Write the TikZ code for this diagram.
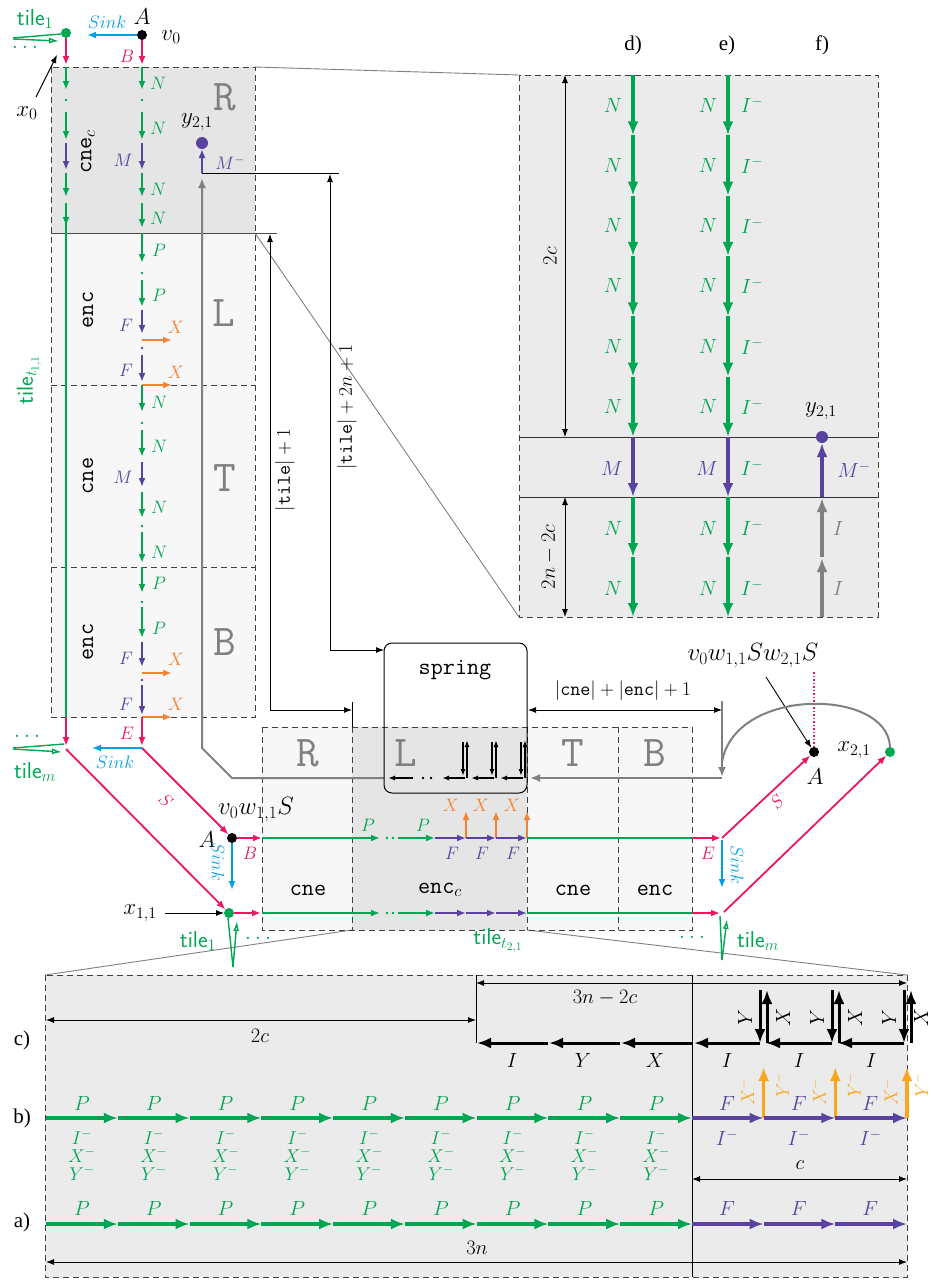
\RequirePackage{fix-cm}
\documentclass[tikz,border=0pt]{standalone}
\usepackage{fontspec}
\usetikzlibrary{arrows.meta}
\newfontfamily\timesf{Liberation Serif}
\definecolor{cgreen}{RGB}{0,166,81}
\definecolor{cpurple}{RGB}{90,66,160}
\definecolor{cred}{RGB}{236,24,92}
\definecolor{ccyan}{RGB}{0,160,226}
\definecolor{corange}{RGB}{244,130,54}
\definecolor{camber}{RGB}{250,166,30}
\definecolor{fillA}{RGB}{229,229,229}
\definecolor{fillB}{RGB}{247,247,247}
\definecolor{fillP}{RGB}{235,235,235}
\definecolor{dgray}{RGB}{128,128,128}
\newcommand\fsz[1]{\fontsize{#1}{#1}\selectfont}
\begin{document}
\begin{tikzpicture}[x=1pt,y=-1pt,
  every node/.style={inner sep=0pt,outer sep=0pt},
  hsm/.style={-{Latex[length=9pt,width=7pt]}},
  hbg/.style={-{Latex[length=14pt,width=11pt]}},
  hdm/.style={-{Latex[length=8pt,width=6pt]}},
  grnA/.style={cgreen,line width=1.8pt,hsm},
  purA/.style={cpurple,line width=1.8pt,hsm},
  redA/.style={cred,line width=1.8pt,hsm},
  cynA/.style={ccyan,line width=1.8pt,hsm},
  orgA/.style={corange,line width=1.8pt,hsm},
  blkS/.style={black,line width=1.8pt,-{Latex[length=7pt,width=5pt]}},
  GRN/.style={cgreen,line width=3.2pt,hbg},
  PUR/.style={cpurple,line width=3.2pt,hbg},
  AMB/.style={camber,line width=3.2pt,hbg},
  BLK/.style={black,line width=3pt,hbg},
  GRY/.style={dgray,line width=3.2pt,hbg},
  gryA/.style={dgray,line width=2pt,-{Latex[length=10pt,width=8pt]}},
  thinA/.style={black,line width=0.9pt,hdm},
  dimA/.style={black,line width=0.9pt,{Latex[length=8pt,width=6pt]}-{Latex[length=8pt,width=6pt]}},
  dsh/.style={dash pattern=on 6pt off 4pt,line width=1pt,black!75},
  mag/.style={dgray,line width=0.9pt},
  lbS/.style={font=\fsz{18}},
  lbD/.style={font=\fsz{19.5}},
  lbM/.style={font=\fsz{23}},
  lbV/.style={font=\fsz{25}},
  lbP/.style={font=\fsz{20.5}},
  lbK/.style={font=\fsz{18.5}},
  lbT/.style={font=\fsz{23}\sffamily,text=cgreen},
  ttl/.style={font=\fsz{23.5}\ttfamily},
  bigL/.style={font=\fsz{44}\ttfamily,text=dgray},
  dotg/.style={circle,fill=cgreen,minimum size=10pt},
  dotk/.style={circle,fill=black,minimum size=10pt},
  dotp/.style={circle,fill=cpurple,minimum size=12pt},
  wdg/.style={cgreen,line width=1.4pt},
  wdgA/.style={cgreen,line width=1.4pt,-{Latex[length=10pt,width=6pt,open]}},
]
\useasboundingbox (0,0) rectangle (931,1280);

% ---------- fills
\fill[fillA] (51,67) rectangle (255,233);
\fill[fillB] (51,233) rectangle (255,717);
\fill[fillP] (519,75) rectangle (878,617);
\fill[fillB] (262,727) rectangle (352,930);
\fill[fillA] (352,727) rectangle (527,930);
\fill[fillB] (527,727) rectangle (692,930);
\fill[fillP] (45,975) rectangle (907,1277);

% ---------- magnifier lines
\draw[mag] (255,67) -- (519,75);
\draw[mag] (255,233) -- (519,617);
\draw[mag] (352,930) -- (45,975);
\draw[mag] (527,930) -- (907,975);

% ---------- dashed boxes
\draw[dsh] (51,67) rectangle (255,717);
\draw[dsh] (51,385) -- (255,385);
\draw[dsh] (51,567) -- (255,567);
\draw[black!70,line width=1pt] (51,233) -- (277,233);
\draw[dsh] (519,75) rectangle (878,617);
\draw[dsh] (262,727) rectangle (692,930);
\draw[dsh] (352,727) -- (352,930);
\draw[dsh] (527,727) -- (527,930);
\draw[dsh] (618,727) -- (618,930);
\draw[dsh] (45,975) rectangle (907,1277);

% ---------- big letters
\node[bigL] at (225,97) {R};
\node[bigL] at (224,313) {L};
\node[bigL] at (225,478) {T};
\node[bigL] at (225,642) {B};
\node[bigL] at (308,753) {R};
\node[bigL] at (406,753) {L};
\node[bigL] at (573,753) {T};
\node[bigL] at (655,753) {B};

% ---------- left column labels
\node[ttl,rotate=90] at (88,152) {cne$_c$};
\node[ttl,rotate=90] at (88,310) {enc};
\node[ttl,rotate=90] at (88,476) {cne};
\node[ttl,rotate=90] at (88,642) {enc};
\node[lbT,rotate=90] at (29,380) {tile$_{t_{1,1}}$};

% ---------- top left
\node[dotg] (g0) at (66,33) {};
\node[dotk] (v0) at (142,35) {};
\node[lbT] at (35,19) {tile$_1$};
\node[lbM,text=cgreen] at (25,47) {$\dots$};
\node[lbM] at (142,17) {$A$};
\node[lbM] at (171,37) {$v_0$};
\draw[cynA] (v0.west) -- (87,35);
\node[lbS,text=ccyan] at (107,22) {$Sink$};
\draw[redA] (g0.south) -- (66,65);
\draw[redA] (v0.south) -- (142,65);
\node[lbS,text=cred] at (127,56) {$B$};
\draw[wdg] (13,38) -- (61,34);
\draw[wdgA] (13,39) -- (59,41);
\node[lbM] (x0) at (27,113) {$x_0$};
\draw[thinA] (36,97) -- (57,55);

% ---------- left column x=66
\draw[grnA] (66,67) -- (66,90);
\fill[cgreen] (66,100) circle (1.3pt);
\draw[grnA] (66,112) -- (66,140);
\draw[purA] (66,143) -- (66,170);
\draw[grnA] (66,173) -- (66,197);
\draw[grnA] (66,203) -- (66,226);
\draw[cgreen,line width=1.8pt] (66,222) -- (66,717);

% ---------- right column x=142, R box
\draw[grnA] (142,67) -- (142,90);   \node[lbS,text=cgreen] at (158,83) {$N$};
\fill[cgreen] (142,100) circle (1.3pt);
\draw[grnA] (142,112) -- (142,140); \node[lbS,text=cgreen] at (158,128) {$N$};
\draw[purA] (142,143) -- (142,170); \node[lbS,text=cpurple] at (123,160) {$M$};
\draw[grnA] (142,173) -- (142,197); \node[lbS,text=cgreen] at (158,189) {$N$};
\draw[grnA] (142,203) -- (142,228); \node[lbS,text=cgreen] at (158,218) {$N$};
% L box
\draw[grnA] (142,233) -- (142,263); \node[lbS,text=cgreen] at (159,250) {$P$};
\fill[cgreen] (142,273) circle (1.3pt);
\draw[grnA] (142,280) -- (142,307); \node[lbS,text=cgreen] at (159,295) {$P$};
\draw[purA] (142,310) -- (142,334); \node[lbS,text=cpurple] at (126,325) {$F$};
\draw[orgA] (142,340) -- (172,340); \node[lbS,text=corange] at (176,327) {$X$};
\fill[cpurple] (142,348) circle (1.3pt);
\draw[purA] (142,355) -- (142,382); \node[lbS,text=cpurple] at (126,370) {$F$};
\draw[orgA] (142,385) -- (172,385); \node[lbS,text=corange] at (176,372) {$X$};
% T box
\draw[grnA] (142,385) -- (142,412); \node[lbS,text=cgreen] at (159,402) {$N$};
\fill[cgreen] (142,423) circle (1.3pt);
\draw[grnA] (142,430) -- (142,457); \node[lbS,text=cgreen] at (159,446) {$N$};
\draw[purA] (142,462) -- (142,487); \node[lbS,text=cpurple] at (123,477) {$M$};
\draw[grnA] (142,492) -- (142,518); \node[lbS,text=cgreen] at (159,507) {$N$};
\fill[cgreen] (142,526) circle (1.3pt);
\draw[grnA] (142,532) -- (142,563); \node[lbS,text=cgreen] at (159,552) {$N$};
% B box
\draw[grnA] (142,567) -- (142,593); \node[lbS,text=cgreen] at (159,583) {$P$};
\fill[cgreen] (142,602) circle (1.3pt);
\draw[grnA] (142,607) -- (142,638); \node[lbS,text=cgreen] at (159,628) {$P$};
\draw[purA] (142,642) -- (142,667); \node[lbS,text=cpurple] at (126,658) {$F$};
\draw[orgA] (142,673) -- (172,673); \node[lbS,text=corange] at (176,659) {$X$};
\fill[cpurple] (142,680) circle (1.3pt);
\draw[purA] (142,685) -- (142,715); \node[lbS,text=cpurple] at (126,704) {$F$};
\draw[orgA] (142,717) -- (172,717); \node[lbS,text=corange] at (176,704) {$X$};

% ---------- left bottom exits
\draw[redA] (66,717) -- (66,746);
\draw[redA] (142,717) -- (142,746);
\node[lbS,text=cred] at (127,733) {$E$};
\coordinate (L1) at (66,749);
\coordinate (L2) at (142,748);
\draw[cynA] (L2) -- (92,748);
\node[lbS,text=ccyan] at (115,762) {$Sink$};
\draw[wdg] (13,748) -- (64,744);
\draw[wdgA] (13,749) -- (62,752);
\node[lbT] at (35,772) {tile$_m$};
\node[lbM,text=cgreen] at (27,736) {$\dots$};

% ---------- y21 in R box and gray path
\draw[gryA] (384,778) -- (232,778) -- (202,748) -- (202,178);
\node[dotp] (y21a) at (202,143) {};
\draw[purA] (202,173) -- (y21a);
\node[lbM] at (197,122) {$y_{2,1}$};
\node[lbS,text=cpurple] at (230,163) {$M^-$};
\draw[black,line width=0.9pt] (202,173) -- (339,173);

% ---------- dimension arrows
\draw[dimA] (352,710) -- (270,710) -- (270,234);
\draw[black,line width=0.9pt] (352,702) -- (352,727);
\node[lbD,rotate=90] at (285,470) {$|\texttt{tile}|+1$};
\draw[dimA] (384,650) -- (330,650) -- (330,174);
\node[lbD,rotate=90] at (347,407) {$|\texttt{tile}|+2n+1$};

% ---------- spring
\node[draw,rounded corners=8pt,line width=1pt,minimum width=143pt,minimum height=150pt] (spr) at (455.5,718) {};
\node[ttl] at (455,670) {spring};
\draw[blkS] (413,778) -- (388,778);
\fill (423,778) circle (1.3pt) (431,778) circle (1.3pt);
\foreach \xs in {465,494,523}{
  \draw[blkS] (\xs,778) -- (\xs-23,778);
  \draw[blkS] (\xs-2,742) -- (\xs-2,776);
  \draw[blkS] (\xs+2,778) -- (\xs+2,740);
}

% ---------- |cne|+|enc|+1
\draw[dimA] (528,710) -- (722,710);
\node[lbD] at (623,691) {$|\texttt{cne}|+|\texttt{enc}|+1$};
\draw[gryA] (722,701) -- (722,777);
\draw[gryA] (722,778) -- (530,778);

% ---------- bottom row labels
\node[ttl] at (308,890) {cne};
\node[ttl] at (440,890) {enc$_c$};
\node[ttl] at (573,890) {cne};
\node[ttl] at (655,890) {enc};

% ---------- bottom upper line y=838
\node[dotk] (A1) at (232,838) {};
\draw[redA] (A1) -- (262,838);
\node[lbS,text=cred] at (250,853) {$B$};
\node[lbM] at (207,840) {$A$};
\node[lbV] at (256,810) {$v_0w_{1,1}S$};
\draw[grnA] (262,838) -- (380,838);
\fill[cgreen] (387,838) circle (1.3pt) (393,838) circle (1.3pt);
\draw[grnA] (398,838) -- (435,838);
\node[lbS,text=cgreen] at (368,825) {$P$};
\node[lbS,text=cgreen] at (423,825) {$P$};
\foreach \xa/\xb in {435/466,466/496,496/527}{
  \draw[purA] (\xa,838) -- (\xb,838);
  \draw[orgA] (\xb,838) -- (\xb,811);
  \node[lbS,text=cpurple] at (\xb-14,853) {$F$};
  \node[lbS,text=corange] at (\xb-15,805) {$X$};
}
\draw[cgreen,line width=1.8pt] (527,838) -- (692,838);
\draw[redA] (692,838) -- (721,838);
\node[lbS,text=cred] at (708,853) {$E$};
\draw[cynA] (A1.south) -- (232,890);
\node[lbS,text=ccyan,rotate=-90] at (218,862) {$Sink$};

% ---------- bottom lower line y=913
\node[dotg] (X11) at (229,913) {};
\node[lbM] (x11l) at (140,913) {$x_{1,1}$};
\draw[thinA] (x11l.east) ++(8,0) -- (X11.west);
\draw[redA] (X11) -- (261,913);
\draw[grnA] (262,913) -- (380,913);
\fill[cgreen] (387,913) circle (1.3pt) (393,913) circle (1.3pt);
\draw[grnA] (398,913) -- (435,913);
\draw[purA] (435,913) -- (466,913);
\draw[purA] (466,913) -- (496,913);
\draw[purA] (496,913) -- (527,913);
\draw[cgreen,line width=1.8pt] (527,913) -- (692,913);
\draw[redA] (692,913) -- (720,913);
\draw[redA] (L1) -- (X11);
\draw[redA] (L2) -- (A1);
\node[lbS,text=cred,rotate=-45] at (166,800) {$S$};
\draw[wdg] (233,967) -- (228,918);
\draw[wdgA] (233,967) -- (237,921);
\node[lbT] at (198,941) {tile$_1$};
\node[lbM,text=cgreen] at (258,938) {$\dots$};
\node[lbT] at (498,941) {tile$_{t_{2,1}}$};

% ---------- right side
\node[dotk] (A2) at (814,752) {};
\node[dotg] (X21) at (890,752) {};
\draw[redA] (722,838) -- (A2);
\node[lbS,text=cred,rotate=45] at (777,802) {$S$};
\draw[redA] (724,912) -- (X21);
\draw[cynA] (722,840) -- (722,888);
\node[lbS,text=ccyan,rotate=-90] at (737,865) {$Sink$};
\node[lbM] at (815,777) {$A$};
\node[lbM] at (854,750) {$x_{2,1}$};
\node[lbV] (vw) at (753,656) {$v_0w_{1,1}Sw_{2,1}S$};
\draw[thinA] (766,677) -- (A2);
\draw[cred,line width=1.5pt,dotted] (814,672) -- (A2.north);
\draw[dgray,line width=2pt] (X21.north) .. controls (888,688) and (735,686) .. (722,762);
\draw[wdg] (722,960) -- (720,916);
\draw[wdgA] (722,960) -- (727,919);
\node[lbT] at (758,941) {tile$_m$};
\node[lbM,text=cgreen] at (692,937) {$\dots$};

% ---------- top right panel
\node[font=\timesf\fsz{21}] at (633,45) {d)};
\node[font=\timesf\fsz{21}] at (727,45) {e)};
\node[font=\timesf\fsz{21}] at (822,45) {f)};
\draw[black!80,line width=1pt] (519,437) -- (878,437);
\draw[black!80,line width=1pt] (519,497) -- (878,497);
\foreach \i in {0,...,5}{
  \pgfmathsetmacro\ya{75+60.33*\i}
  \pgfmathsetmacro\yb{\ya+60.33}
  \pgfmathsetmacro\yl{\ya+30}
  \draw[GRN] (633,\ya) -- (633,\yb);
  \node[lbP,text=cgreen] at (613,\yl) {$N$};
  \draw[GRN] (728,\ya) -- (728,\yb);
  \node[lbP,text=cgreen] at (708,\yl) {$N$};
  \node[lbP,text=cgreen] at (752,\yl) {$I^-$};
}
\draw[PUR] (633,437) -- (633,497);
\node[lbP,text=cpurple] at (612,468) {$M$};
\draw[PUR] (728,437) -- (728,497);
\node[lbP,text=cpurple] at (707,468) {$M$};
\node[lbP,text=cgreen] at (752,468) {$I^-$};
\foreach \ya/\yb/\yl in {497/557/528,557/617/588}{
  \draw[GRN] (633,\ya) -- (633,\yb);
  \node[lbP,text=cgreen] at (613,\yl) {$N$};
  \draw[GRN] (728,\ya) -- (728,\yb);
  \node[lbP,text=cgreen] at (708,\yl) {$N$};
  \node[lbP,text=cgreen] at (752,\yl) {$I^-$};
}
\node[dotp] (y21b) at (822,437) {};
\draw[GRY] (822,617) -- (822,558);
\draw[GRY] (822,557) -- (822,498);
\draw[PUR] (822,497) -- (y21b);
\node[lbM] at (821,411) {$y_{2,1}$};
\node[lbP,text=cpurple] at (854,470) {$M^-$};
\node[lbP,text=dgray] at (838,528) {$I$};
\node[lbP,text=dgray] at (838,588) {$I$};
\draw[dimA] (565,75) -- (565,437);
\node[lbP,rotate=90] at (550,256) {$2c$};
\draw[dimA] (565,497) -- (565,617);
\node[lbP,rotate=90] at (549,557) {$2n-2c$};

% ---------- bottom panel
\draw[black,line width=0.9pt] (692,975) -- (692,1277);
\draw[black,line width=0.9pt] (476,975) -- (476,1043);
\draw[dimA] (46,1020) -- (476,1020);
\node[lbP] at (260,1036) {$2c$};
\draw[dimA] (476,983) -- (907,983);
\node[lbP] at (605,998) {$3n-2c$};
\draw[dimA] (692,1179) -- (907,1179);
\node[lbP] at (800,1165) {$c$};
\draw[dimA] (46,1262) -- (907,1262);
\node[lbP] at (477,1248) {$3n$};
\node[font=\timesf\fsz{21}] at (22,1040) {c)};
\node[font=\timesf\fsz{21}] at (22,1118) {b)};
\node[font=\timesf\fsz{21}] at (22,1222) {a)};

% row c
\draw[BLK] (548,1043) -- (477,1043);
\draw[BLK] (620,1043) -- (549,1043);
\draw[BLK] (692,1043) -- (621,1043);
\node[lbP] at (512,1060) {$I$};
\node[lbP] at (583,1060) {$Y$};
\node[lbP] at (655,1060) {$X$};
\foreach \xs/\xl in {760/783,832/855,904/921}{
  \draw[BLK] (\xs,1043) -- (\xs-66,1043);
  \draw[BLK] (\xs,990) -- (\xs,1043);
  \draw[BLK] (\xs+7,1043) -- (\xs+7,990);
  \node[lbP,rotate=90] at (\xs-15,1017) {$Y$};
  \node[lbP,rotate=90] at (\xl,1017) {$X$};
  \node[lbP] at (\xs-33,1060) {$I$};
}

% rows b and a (green)
\foreach \i in {0,...,8}{
  \pgfmathsetmacro\xa{46+71.78*\i}
  \pgfmathsetmacro\xb{\xa+71.78}
  \pgfmathsetmacro\xm{\xa+36}
  \draw[GRN] (\xa,1118) -- (\xb,1118);
  \node[lbP,text=cgreen] at (\xm,1103) {$P$};
  \node[lbK,text=cgreen] at (\xm,1137) {$I^-$};
  \node[lbK,text=cgreen] at (\xm,1155) {$X^-$};
  \node[lbK,text=cgreen] at (\xm,1173) {$Y^-$};
  \draw[GRN] (\xa,1224) -- (\xb,1224);
  \node[lbP,text=cgreen] at (\xm,1208) {$P$};
}
% rows b and a (purple)
\foreach \i/\yx in {0/782,1/853.5,2/921}{
  \pgfmathsetmacro\xa{692+71.67*\i}
  \pgfmathsetmacro\xb{\xa+71.67}
  \pgfmathsetmacro\xm{\xa+35}
  \pgfmathsetmacro\xx{\xa+55}
  \draw[PUR] (\xa,1118) -- (\xb,1118);
  \draw[AMB] (\xb,1118) -- (\xb,1067);
  \node[lbP,text=cpurple] at (\xm,1103) {$F$};
  \node[lbP,text=cpurple] at (\xm,1138) {$I^-$};
  \node[lbK,text=camber,rotate=90] at (\xx,1092) {$X^-$};
  \node[lbK,text=camber,rotate=90] at (\yx,1085) {$Y^-$};
  \draw[PUR] (\xa,1224) -- (\xb,1224);
  \node[lbP,text=cpurple] at (\xm,1208) {$F$};
}
\end{tikzpicture}
\end{document}
